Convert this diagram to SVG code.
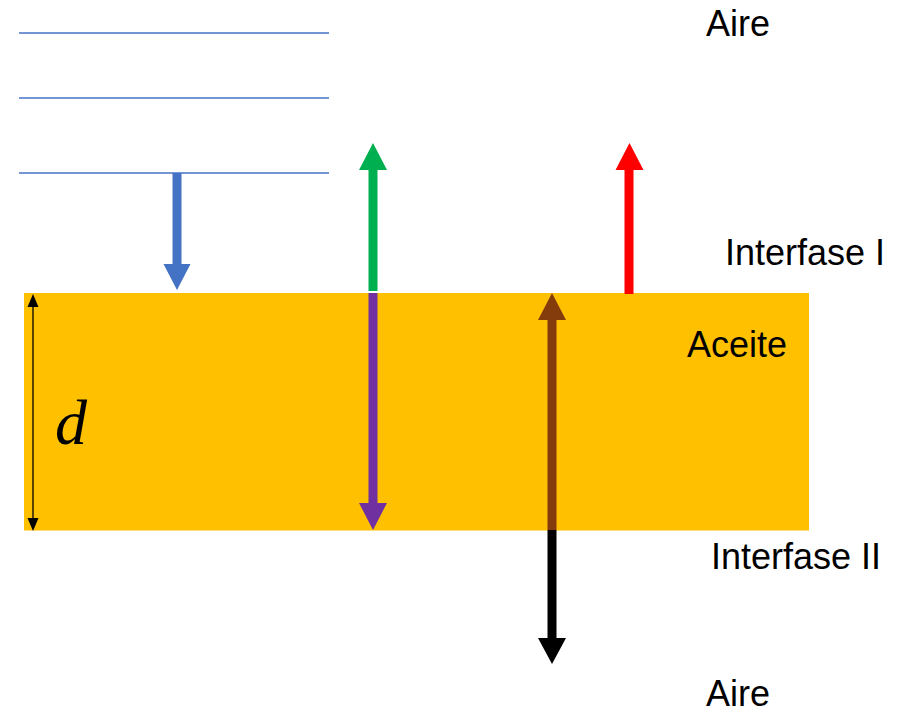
<svg xmlns="http://www.w3.org/2000/svg" width="903" height="715" viewBox="0 0 903 715">
  <style>
    .lbl { font-family: "Liberation Sans", Arial, sans-serif; font-size: 36px; fill: #000; }
    .math { font-family: "Liberation Serif", "DejaVu Serif", serif; font-style: italic; font-size: 64px; fill: #000; }
    .wave { stroke: #4472C4; stroke-width: 1.4; fill: none; }
  </style>
  <rect width="903" height="715" fill="#fff"/>
  <g id="wavefronts">
    <line class="wave" x1="19" y1="33" x2="329" y2="33"/>
    <line class="wave" x1="19" y1="98" x2="329" y2="98"/>
    <line class="wave" x1="19" y1="173" x2="329" y2="173"/>
  </g>
  <g id="oil-layer">
    <rect x="24" y="293" width="785" height="237.5" fill="#FFC000"/>
    <text class="lbl" x="687" y="357">Aceite</text>
  </g>
  <g id="thickness">
    <line x1="33" y1="305" x2="33" y2="520" stroke="#000" stroke-width="1.3"/>
    <polygon points="33,294 27.5,307 38.5,307" fill="#000"/>
    <polygon points="33,531 27.5,518 38.5,518" fill="#000"/>
    <text class="math" x="55" y="444">d</text>
  </g>
  <g id="connectors">
    <polygon id="incident" fill="#4472C4" points="172.5,173 181.5,173 181.5,264 190.5,264 177,290 163.5,264 172.5,264"/>
    <polygon id="reflected-green" fill="#00B050" points="368.5,291 377.5,291 377.5,170 387,170 373,143 359,170 368.5,170"/>
    <polygon id="transmitted-purple" fill="#7030A0" points="368.5,293 377.5,293 377.5,503 387,503 373,530 359,503 368.5,503"/>
    <polygon id="reflected-red" fill="#FF0000" points="624.5,294 633.5,294 633.5,170 643.5,170 629.5,143 615.5,170 624.5,170"/>
    <polygon id="internal-brown" fill="#843C0C" points="547.5,530 556.5,530 556.5,320 566,320 552,293 538,320 547.5,320"/>
    <polygon id="transmitted-black" fill="#000000" points="547.5,530 556.5,530 556.5,638 566,638 552,664 538,638 547.5,638"/>
  </g>
  <g id="labels">
    <text class="lbl" x="706" y="36">Aire</text>
    <text class="lbl" x="725" y="265">Interfase I</text>
    <text class="lbl" x="711" y="569">Interfase II</text>
    <text class="lbl" x="706" y="706">Aire</text>
  </g>
</svg>
